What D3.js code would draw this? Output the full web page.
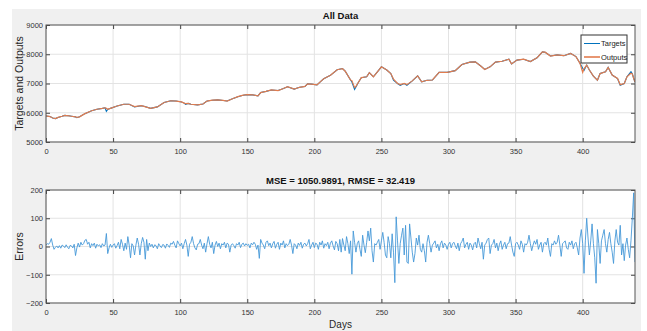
<!DOCTYPE html>
<html>
<head>
<meta charset="utf-8">
<script src="https://cdn.jsdelivr.net/npm/d3@7"></script>
<style>
  body { margin: 0; background: #fff; }
  svg { display: block; font-family: "Liberation Sans", Arial, sans-serif; }
</style>
</head>
<body>
<div id="chart"></div>
<script>
const targetDays = [
  0, 3, 5, 7, 9, 12, 14, 17, 19, 22,
  23, 25, 29, 34, 38, 42, 44, 45, 46, 48,
  53, 58, 62, 66, 71, 73, 78, 83, 88, 93,
  97, 101, 103, 104, 106, 108, 113, 117, 120, 124,
  128, 132, 135, 139, 143, 147, 150, 154, 158, 160,
  164, 168, 173, 177, 180, 185, 189, 193, 195, 198,
  202, 205, 207, 212, 217, 221, 223, 227, 228, 230,
  231, 233, 235, 239, 241, 244, 247, 250, 254, 257,
  259, 262, 264, 267, 269, 273, 277, 280, 284, 288,
  293, 299, 305, 310, 316, 320, 324, 327, 331, 335,
  340, 345, 347, 351, 356, 361, 366, 370, 372, 376,
  381, 386, 391, 395, 398, 400, 401, 403, 405, 408,
  411, 413, 417, 419, 422, 426, 428, 431, 433, 436,
  437, 438, 439
];
const targetValues = [
  5890, 5870, 5820, 5800, 5840, 5880, 5910, 5895, 5880, 5860,
  5830, 5860, 5970, 6070, 6120, 6150, 6170, 6050, 6110, 6150,
  6230, 6290, 6290, 6200, 6240, 6220, 6150, 6200, 6350, 6410,
  6400, 6370, 6330, 6290, 6320, 6290, 6270, 6300, 6400, 6430,
  6440, 6420, 6400, 6480, 6550, 6600, 6620, 6610, 6580, 6690,
  6730, 6780, 6760, 6830, 6890, 6810, 6870, 6900, 6990, 6980,
  6950, 7080, 7160, 7280, 7470, 7510, 7420, 7120, 7050, 6800,
  6880, 7050, 7200, 7230, 7370, 7230, 7400, 7570, 7460, 7340,
  7110, 7000, 6940, 7000, 6940, 7090, 7260, 7060, 7110, 7120,
  7380, 7380, 7440, 7650, 7730, 7740, 7600, 7480, 7570, 7730,
  7760, 7830, 7670, 7800, 7830, 7750, 7880, 8080, 8070, 7940,
  7980, 7950, 8030, 7920, 7690, 7520, 7450, 7630, 7460, 7250,
  7110, 7340, 7400, 7550, 7290, 7170, 6940, 7000, 7230, 7400,
  7330, 7180, 7050
];
const outputValues = [
  5890, 5870, 5820, 5800, 5840, 5880, 5910, 5895, 5880, 5860,
  5840, 5860, 5970, 6070, 6120, 6150, 6170, 6150, 6120, 6150,
  6230, 6290, 6290, 6210, 6240, 6220, 6150, 6200, 6350, 6410,
  6400, 6370, 6330, 6310, 6320, 6290, 6270, 6300, 6400, 6430,
  6440, 6420, 6400, 6480, 6550, 6600, 6620, 6610, 6580, 6690,
  6730, 6780, 6760, 6830, 6890, 6810, 6870, 6900, 6990, 6980,
  6950, 7080, 7160, 7280, 7470, 7510, 7420, 7120, 7100, 6860,
  6900, 7050, 7200, 7230, 7370, 7230, 7400, 7570, 7460, 7340,
  7150, 7000, 6960, 7000, 6960, 7090, 7260, 7060, 7110, 7120,
  7380, 7380, 7440, 7650, 7730, 7740, 7600, 7480, 7570, 7730,
  7760, 7830, 7670, 7800, 7830, 7750, 7880, 8080, 8070, 7940,
  7980, 7950, 8030, 7920, 7690, 7380, 7500, 7630, 7460, 7250,
  7110, 7340, 7400, 7550, 7290, 7170, 6960, 7000, 7230, 7350,
  7330, 7180, 7050
];
// one error per day, day 0 .. 439
const errorValues = [
  5, 10, 8, 15, 28, 5, -10, -3, 2, -5,
  3, -6, 5, 2, -4, 6, -2, -8, 4, 2,
  -5, 8, -32, -5, 12, -2, 15, 5, 10, 22,
  25, 8, 15, -5, 10, 3, 12, -6, 8, 2,
  6, -4, 10, 2, 5, 46, -25, -5, 8, -3,
  5, 10, -6, 3, 15, -8, 25, 8, -15, 12,
  -10, 35, 5, -40, 10, 2, -30, 5, 30, 8,
  -30, 10, 32, 15, -45, 25, -15, 12, 0, 8,
  -5, 6, 3, -8, 10, 2, -4, 7, 5, -6,
  9, 4, -3, 12, 8, 18, 5, -5, 20, 10,
  2, 12, -8, 10, 25, 5, -35, 8, 15, 35,
  10, -5, -12, 8, 10, 25, 5, -8, 12, -20,
  10, 35, 8, -5, 15, -25, 5, 18, 0, 12,
  -8, 10, 5, 15, -5, 12, 8, -20, 5, 10,
  3, -6, 10, 5, 15, -4, 8, 12, 2, 10,
  4, 8, -5, 12, 6, 15, 8, -10, 5, -42,
  25, 12, 5, -8, 15, 20, 3, 12, -5, 10,
  18, -6, 8, 15, -10, 12, 5, 20, -5, 10,
  3, 8, 25, 5, -25, 10, 5, -8, 12, 4,
  15, -6, 8, 12, 2, 10, 25, -8, 5, 15,
  -4, 12, 8, -10, 15, 5, 20, -6, 10, 3,
  15, -8, 12, 20, 2, -12, 18, 10, -15, 25,
  -20, 28, 5, -15, 35, 10, -25, 20, -98, 55,
  15, -20, 10, 20, -10, -35, 40, 5, -22, 15,
  55, 20, 65, -15, -55, 10, 5, 15, 25, -10,
  20, 50, 15, -30, -40, 35, 10, -40, 45, -20,
  -128, 105, 20, -60, 10, 40, 65, -30, 75, -55,
  -60, 80, 30, -20, -55, -25, 30, 5, 40, -10,
  -20, 10, -15, -55, 15, 40, 10, -20, 5, 12,
  20, -5, 8, -15, 10, 20, -5, 12, 5, -10,
  8, 15, -5, 10, 15, 3, -8, 12, -15, 10,
  18, 30, -5, 8, 15, -10, 12, 5, -12, 10,
  15, -5, 30, 10, -8, 15, -45, 5, 12, 25,
  30, -25, 5, 10, 25, -5, 12, -15, 8, 20,
  -10, 5, 15, -8, 10, 12, 35, 5, -20, -35,
  10, 15, 5, -10, 20, 8, -20, 10, 5, 15,
  40, 10, -15, 5, 20, 8, 25, -10, 5, 15,
  -20, 10, 15, 5, 30, -10, -35, 10, 5, 20,
  8, 15, 40, 5, -35, 10, 15, 20, -5, -10,
  15, 5, 20, -8, 10, 15, -5, -30, 30, 60,
  10, -95, 20, 100, 30, -30, 20, 80, 10, -40,
  -130, 60, 10, -60, 20, 40, 60, 10, -20, 25,
  50, 10, -20, -60, 20, 60, 15, 5, 75, -30,
  10, -50, 5, 30, -10, -40, 20, 100, 190, -55
];
const xTicks = [0, 50, 100, 150, 200, 250, 300, 350, 400];
const topTicks = [5000, 6000, 7000, 8000, 9000];
const errTicks = [-200, -100, 0, 100, 200];
const legendNames = ['Targets', 'Outputs'];

const W = 647, H = 331;
const left = 46, right = 635;
const plotW = right - left;
const top1 = 25, h1 = 117;
const top2 = 190, h2 = 113;

const blue = '#0072bd';
const orange = '#e27c4e';
const errBlue = '#4698d8';

const svg = d3.select('#chart').append('svg')
  .attr('width', W)
  .attr('height', H);

// figure background
svg.append('rect')
  .attr('x', 12).attr('y', 9)
  .attr('width', 629).attr('height', H - 9)
  .attr('fill', '#f0f0f0');

const x = d3.scaleLinear().domain([0, 439]).range([0, plotW]);
const yTop = d3.scaleLinear().domain([5000, 9000]).range([h1, 0]);
const yErr = d3.scaleLinear().domain([-200, 200]).range([h2, 0]);
const fmt = d3.format('d');

function panel(id, top, h, y, yTicks, title, ylabel) {
  const g = svg.append('g').attr('transform', `translate(${left},${top})`);

  g.append('rect').attr('width', plotW).attr('height', h).attr('fill', '#fff');

  // grid
  g.selectAll('.vgrid').data(xTicks).enter().append('line')
    .attr('x1', d => x(d)).attr('x2', d => x(d))
    .attr('y1', 0).attr('y2', h)
    .attr('stroke', '#e3e3e3');
  g.selectAll('.hgrid').data(yTicks).enter().append('line')
    .attr('x1', 0).attr('x2', plotW)
    .attr('y1', d => y(d)).attr('y2', d => y(d))
    .attr('stroke', '#e3e3e3');

  // clip box in the panel's own coordinates
  svg.append('clipPath').attr('id', id)
    .append('rect').attr('x', 0).attr('y', 0).attr('width', plotW).attr('height', h);

  // axes, MATLAB style ticks pointing inward
  g.append('g').attr('transform', `translate(0,${h})`)
    .call(d3.axisBottom(x).tickValues(xTicks).tickSizeInner(-4).tickSizeOuter(0).tickPadding(7).tickFormat(fmt));
  g.append('g')
    .call(d3.axisTop(x).tickValues(xTicks).tickSizeInner(-4).tickSizeOuter(0).tickFormat(''));
  g.append('g')
    .call(d3.axisLeft(y).tickValues(yTicks).tickSizeInner(-4).tickSizeOuter(0).tickPadding(3).tickFormat(fmt));
  g.append('g').attr('transform', `translate(${plotW},0)`)
    .call(d3.axisRight(y).tickValues(yTicks).tickSizeInner(-4).tickSizeOuter(0).tickFormat(''));

  g.selectAll('.domain').remove();
  g.selectAll('.tick line').attr('stroke', '#444');
  g.selectAll('.tick text')
    .attr('font-size', '7.5px')
    .attr('font-family', '"Liberation Sans", Arial, sans-serif')
    .attr('fill', '#333');

  svg.append('text')
    .attr('x', left + plotW / 2)
    .attr('y', top - 6)
    .attr('text-anchor', 'middle')
    .attr('font-size', '9.5px')
    .attr('font-weight', 'bold')
    .attr('fill', '#111')
    .text(title);

  svg.append('text')
    .attr('transform', `translate(23,${top + h / 2}) rotate(-90)`)
    .attr('text-anchor', 'middle')
    .attr('font-size', '10.5px')
    .attr('fill', '#262626')
    .text(ylabel);

  return g;
}

function drawBox(g, h) {
  g.append('rect')
    .attr('width', plotW).attr('height', h)
    .attr('fill', 'none')
    .attr('stroke', '#555')
    .attr('stroke-width', 1);
}

// top panel: targets and outputs
const g1 = panel('clipTop', top1, h1, yTop, topTicks, 'All Data', 'Targets and Outputs');
const topLine = d3.line()
  .x((d, i) => x(targetDays[i]))
  .y(d => yTop(d));

const lines1 = g1.append('g').attr('clip-path', 'url(#clipTop)');
lines1.append('path').datum(targetValues)
  .attr('d', topLine)
  .attr('fill', 'none').attr('stroke', blue).attr('stroke-width', 1.1);
lines1.append('path').datum(outputValues)
  .attr('d', topLine)
  .attr('fill', 'none').attr('stroke', orange).attr('stroke-width', 1.2);
drawBox(g1, h1);

// legend
const legend = svg.append('g').attr('transform', 'translate(581,35)');
legend.append('rect')
  .attr('width', 46).attr('height', 28)
  .attr('fill', '#fff').attr('stroke', '#333');
legendNames.forEach((name, i) => {
  const row = legend.append('g').attr('transform', `translate(0,${8.5 + i * 13.5})`);
  row.append('line')
    .attr('x1', 3).attr('x2', 19)
    .attr('stroke', i === 0 ? blue : orange)
    .attr('stroke-width', i === 0 ? 1 : 1.6);
  row.append('text')
    .attr('x', 20).attr('y', 2.7)
    .attr('font-size', '7.5px')
    .attr('fill', '#222')
    .text(name);
});

// bottom panel: errors
const g2 = panel('clipErr', top2, h2, yErr, errTicks, 'MSE = 1050.9891, RMSE = 32.419', 'Errors');
g2.append('g').attr('clip-path', 'url(#clipErr)')
  .append('path').datum(errorValues)
  .attr('d', d3.line().x((d, i) => x(i)).y(d => yErr(d)))
  .attr('fill', 'none').attr('stroke', errBlue).attr('stroke-width', 0.9);
drawBox(g2, h2);

svg.append('text')
  .attr('x', left + plotW / 2)
  .attr('y', 328)
  .attr('text-anchor', 'middle')
  .attr('font-size', '10px')
  .attr('fill', '#262626')
  .text('Days');
</script>
</body>
</html>
